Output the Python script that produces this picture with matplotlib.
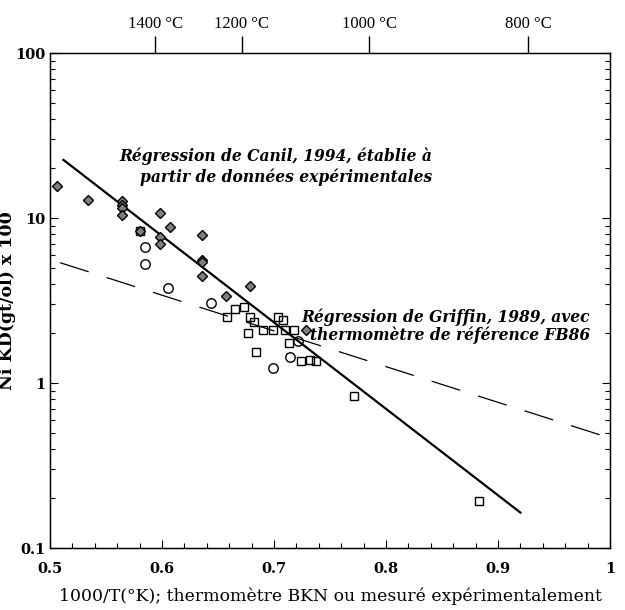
import numpy as np
import matplotlib
matplotlib.use("Agg")
from matplotlib import pyplot as plt
from matplotlib.ticker import FixedLocator, NullFormatter, LogLocator

# experimental data points (1000/T, Ni KD x 100)
diam_x = [0.5065, 0.534, 0.564, 0.564, 0.564, 0.564, 0.598, 0.580, 0.607,
          0.598, 0.598, 0.636, 0.636, 0.636, 0.636, 0.679, 0.657, 0.7286]
diam_y = [15.6, 12.9, 12.6, 12.0, 11.5, 10.4, 10.7, 8.4, 8.8,
          7.7, 7.0, 7.9, 5.6, 5.4, 4.45, 3.87, 3.38, 2.1]

circ_x = [0.585, 0.585, 0.605, 0.644, 0.721, 0.714, 0.699]
circ_y = [6.7, 5.3, 3.78, 3.07, 1.80, 1.44, 1.24]

sq_x = [0.580, 0.658, 0.665, 0.673, 0.679, 0.682, 0.677, 0.684, 0.690, 0.699,
        0.704, 0.708, 0.710, 0.718, 0.713, 0.724, 0.732, 0.7375, 0.771, 0.883]
sq_y = [8.4, 2.52, 2.80, 2.90, 2.52, 2.35, 2.02, 1.55, 2.09, 2.11,
        2.52, 2.41, 2.09, 2.09, 1.74, 1.36, 1.38, 1.36, 0.834, 0.193]

# regression lines (end points)
canil_x = [0.512, 0.92]
canil_y = [22.5, 0.164]
griffin_x = [0.509, 1.0]
griffin_y = [5.36, 0.464]

# temperature scale on top
temp_pos = [0.594, 0.671, 0.785, 0.927]
temp_lab = ["1400 °C", "1200 °C", "1000 °C", "800 °C"]

times = "Liberation Serif"
century = "DejaVu Serif"

fig = plt.figure(figsize=(6.25, 6.10), dpi=100)
ax = fig.add_axes([0.08, 0.1016, 0.896, 0.8115])

ax.plot(canil_x, canil_y, color="black", lw=1.6)
ax.plot(griffin_x, griffin_y, color="black", lw=0.9, dashes=(24, 15))

ax.plot(sq_x, sq_y, ls="none", marker="s", ms=6.2, mfc="none", mec="black", mew=1.0)
ax.plot(circ_x, circ_y, ls="none", marker="o", ms=6.8, mfc="none", mec="black", mew=1.0)
ax.plot(diam_x, diam_y, ls="none", marker="D", ms=5, mfc="#7f7f7f", mec="black", mew=1.0)

ax.set_yscale("log")
ax.set_xlim(0.5, 1.0)
ax.set_ylim(0.1, 100)

ax.set_xticks([0.5, 0.6, 0.7, 0.8, 0.9, 1.0])
ax.set_xticklabels(["0.5", "0.6", "0.7", "0.8", "0.9", "1"])
ax.xaxis.set_minor_locator(FixedLocator(np.arange(0.5, 1.001, 0.02)))
ax.set_yticks([0.1, 1, 10, 100])
ax.set_yticklabels(["0.1", "1", "10", "100"])
ax.yaxis.set_minor_locator(LogLocator(base=10, subs=np.arange(2, 10), numticks=20))
ax.yaxis.set_minor_formatter(NullFormatter())

ax.tick_params(which="both", direction="in", top=True, right=True, width=0.8)
ax.tick_params(which="major", length=6)
ax.tick_params(which="minor", length=3.5)
ax.tick_params(axis="x", pad=10)
ax.tick_params(axis="y", pad=3)
for lab in ax.get_xticklabels() + ax.get_yticklabels():
    lab.set_fontfamily(century)
    lab.set_fontweight("bold")
    lab.set_fontsize(10.5)

for s in ax.spines.values():
    s.set_linewidth(1.0)

# temperature ticks on the top edge
top = ax.twiny()
top.set_xlim(ax.get_xlim())
top.set_xticks(temp_pos)
top.set_xticklabels(temp_lab, fontfamily=times, fontsize=12)
top.tick_params(direction="out", length=12, width=1.0, pad=3)
top.xaxis.set_minor_locator(FixedLocator([]))

ax.set_xlabel("1000/T(°K); thermomètre BKN ou mesuré expérimentalement",
              fontfamily=century, fontsize=12.4, labelpad=8)
ax.set_ylabel("Ni KD(gt/ol) x 100", fontfamily=century, fontsize=12.5,
              fontweight="bold", labelpad=0)

txt = dict(transform=ax.transAxes, ha="right", va="baseline",
           fontfamily=century, style="italic", fontweight="bold", fontsize=11.2)
ax.text(0.682, 0.782, "Régression de Canil, 1994, établie à", **txt)
ax.text(0.682, 0.739, "partir de données expérimentales", **txt)
ax.text(0.964, 0.457, "Régression de Griffin, 1989, avec", **txt)
ax.text(0.964, 0.420, "thermomètre de référence FB86", **txt)

fig.savefig("out.png", dpi=100)
